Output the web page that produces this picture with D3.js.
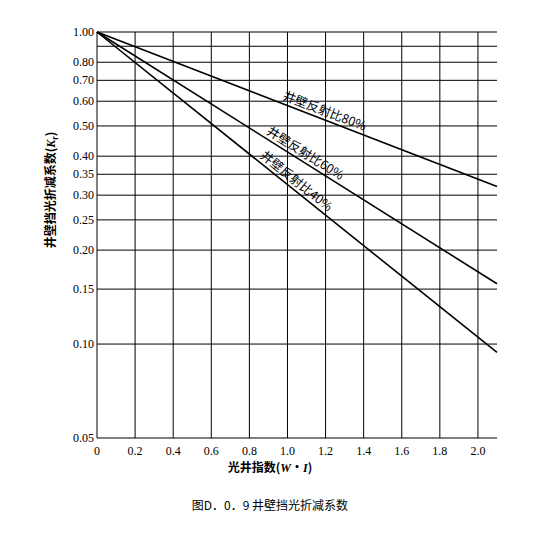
<!DOCTYPE html><html><head><meta charset="utf-8"><script src="https://cdn.jsdelivr.net/npm/d3@7"></script>
<style>body{margin:0;background:#fff}</style></head><body><svg id="c" width="538" height="543"></svg><script>
const xTicks=[0,0.2,0.4,0.6,0.8,1.0,1.2,1.4,1.6,1.8,2.0];
const xLabels=["0","0.2","0.4","0.6","0.8","1.0","1.2","1.4","1.6","1.8","2.0"];
const yGrid=[1.0,0.9,0.8,0.7,0.6,0.5,0.4,0.35,0.3,0.25,0.2,0.15,0.1,0.05];
const yLabels=["1.00","","0.80","0.70","0.60","0.50","0.40","0.35","0.30","0.25","0.20","0.15","0.10","0.05"];
const seriesX=[0,2.1];
const s80=[1.0,0.32], s60=[1.0,0.156], s40=[1.0,0.094];
const names=["井壁反射比80%","井壁反射比60%","井壁反射比40%"];
const labelAt=[1.18,1.07,1.02];
const svg=d3.select("#c");
const x=d3.scaleLinear().domain([0,2.1]).range([97,497]);
const y=d3.scaleLog().domain([0.05,1]).range([438,32]);
const g=svg.append("g");
g.selectAll(".h").data(yGrid).join("line").attr("x1",97).attr("x2",497).attr("y1",d=>y(d)).attr("y2",d=>y(d)).attr("stroke","#000").attr("stroke-width",1);
g.selectAll(".v").data(xTicks).join("line").attr("x1",d=>x(d)).attr("x2",d=>x(d)).attr("y1",32).attr("y2",438).attr("stroke","#000").attr("stroke-width",1);
const f="'Liberation Serif',serif";
g.selectAll(".yl").data(yGrid).join("text").attr("x",94).attr("y",d=>y(d)+4).attr("text-anchor","end").attr("font-family",f).attr("font-size",12).text((d,i)=>yLabels[i]);
g.selectAll(".xl").data(xTicks).join("text").attr("x",d=>x(d)).attr("y",455).attr("text-anchor","middle").attr("font-family",f).attr("font-size",12).text((d,i)=>xLabels[i]);
const line=d3.line().x(d=>x(d[0])).y(d=>y(d[1]));
[s80,s60,s40].forEach((s,i)=>{
 const pts=seriesX.map((xx,j)=>[xx,s[j]]);
 g.append("path").attr("d",line(pts)).attr("fill","none").attr("stroke","#000").attr("stroke-width",1.6);
 const t=labelAt[i], lv=Math.exp(Math.log(s[1])*t/2.1);
 const px=x(t),py=y(lv);
 const ang=Math.atan2(y(s[1])-y(1),x(2.1)-x(0))*180/Math.PI;
 g.append("text").attr("transform",`translate(${px},${py}) rotate(${ang})`).attr("y",-4).attr("text-anchor","middle").attr("font-family","'Noto Sans CJK SC',sans-serif").attr("font-size",12.5).text(names[i]);
});
svg.append("text").attr("transform","translate(55,190) rotate(-90)").attr("text-anchor","middle").attr("font-family","'Noto Sans CJK SC',sans-serif").attr("font-weight","bold").attr("font-size",12).html('井壁挡光折减系数(<tspan font-style="italic" font-family="Liberation Serif">K</tspan><tspan font-size="8" dy="3">r</tspan><tspan dy="-3">)</tspan>');
svg.append("text").attr("x",270).attr("y",472).attr("text-anchor","middle").attr("font-family","'Noto Sans CJK SC',sans-serif").attr("font-weight","bold").attr("font-size",12).html('光井指数(<tspan font-style="italic" font-family="Liberation Serif">W</tspan>・<tspan font-style="italic" font-family="Liberation Serif">I</tspan>)');
svg.append("text").attr("x",270).attr("y",510).attr("text-anchor","middle").attr("font-family","'Noto Sans CJK SC',sans-serif").attr("font-size",12).text("图D．0．9 井壁挡光折减系数");
</script></body></html>
